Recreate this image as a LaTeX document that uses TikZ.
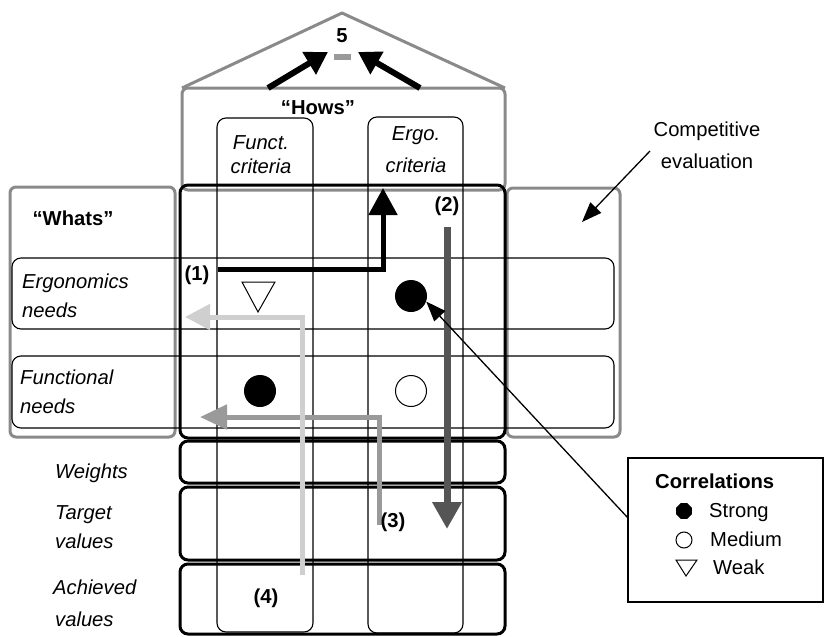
\documentclass[tikz,border=0pt]{standalone}
\usepackage{fontspec}
\setmainfont{Liberation Sans}
\usetikzlibrary{arrows.meta,shapes.geometric}
\definecolor{boxgray}{HTML}{8A8A8A}
\definecolor{darkg}{HTML}{555555}
\definecolor{midg}{HTML}{9A9A9A}
\definecolor{lightg}{HTML}{CFCFCF}
\newcommand\fs{\fontsize{20.2}{24}\selectfont}
\begin{document}
\begin{tikzpicture}[x=1pt,y=-1pt,
  graybox/.style={draw=boxgray, line width=3pt, rounded corners=6pt},
  blackbox/.style={draw=black, line width=3pt, rounded corners=8pt},
  thinbox/.style={draw=black, line width=1.1pt, rounded corners=9pt},
  txt/.style={font=\fs, inner sep=0pt},
  itxt/.style={font=\fs\itshape, inner sep=0pt},
  btxt/.style={font=\fs\bfseries, inner sep=0pt},
  flow/.style={line width=5pt, line join=miter, -{Triangle[length=27pt,width=28pt]}},
  pointer/.style={line width=1.3pt, -{Triangle[length=20pt,width=15pt]}}
]
\useasboundingbox (0,0) rectangle (825,637);

% roof and Hows box
\draw[boxgray, line width=3pt, line join=round] (182,88) -- (342,13) -- (505,88);
\draw[graybox] (182,88) rectangle (505,190);
% Whats and competitive evaluation boxes
\draw[graybox] (10,187) rectangle (175,437);
\draw[graybox] (507,188) rectangle (620,437);
% row boxes
\draw[thinbox] (12,258) rectangle (614,329);
\draw[thinbox] (12,356) rectangle (614,428);
% column boxes
\draw[thinbox] (217,118) rectangle (313,632);
\draw[thinbox] (368,117) rectangle (463,633);
% matrix and lower rows
\draw[blackbox] (180,185) rectangle (505,438);
\draw[blackbox] (180,441) rectangle (505,483);
\draw[blackbox] (180,487) rectangle (505,560);
\draw[blackbox] (180,564) rectangle (505,634);

% correlation symbols
\draw[line width=1pt] (242,282) -- (275,282) -- (258,312) -- cycle;
\node[circle, fill=black, minimum size=32pt, inner sep=0pt] (s1) at (411,296) {};
\node[circle, fill=black, minimum size=32pt, inner sep=0pt] (s2) at (260,391) {};
\node[circle, draw=black, line width=1pt, minimum size=31pt, inner sep=0pt] (m1) at (411,391) {};

% top: 5
\node[btxt] (five) at (342,36) {5};
\draw[midg, line width=6pt] (334,57) -- (351,57);
\coordinate (r1a) at (268,88); \coordinate (r1b) at (328,52);
\coordinate (r2a) at (420,88); \coordinate (r2b) at (358,52);
\draw[line width=6pt, -{Triangle[length=22pt,width=25pt]}] (r1a) -- (r1b);
\draw[line width=6pt, -{Triangle[length=22pt,width=25pt]}] (r2a) -- (r2b);

% flow arrows
\coordinate (f1a) at (218,269); \coordinate (f1b) at (383,269); \coordinate (f1c) at (383,188);
\draw[flow] (f1a) -- (f1b) -- (f1c);
\coordinate (f2a) at (447,227); \coordinate (f2b) at (447,529);
\draw[flow, darkg, line width=7pt] (f2a) -- (f2b);
\coordinate (f3a) at (379,525); \coordinate (f3b) at (379,417); \coordinate (f3c) at (200,417);
\draw[flow, midg, -{Triangle[length=27pt,width=24pt]}] (f3a) -- (f3b) -- (f3c);
\coordinate (f4a) at (302,575); \coordinate (f4b) at (302,317); \coordinate (f4c) at (185,317);
\draw[flow, lightg, -{Triangle[length=25pt,width=25pt]}] (f4a) -- (f4b) -- (f4c);

% texts
\node[btxt] (hows) at (318,108) {“Hows”};
\node[itxt] (fc1) at (261,143) {Funct.};
\node[itxt] (fc2) at (261,166) {criteria};
\node[itxt] (ec1) at (416,136) {Ergo.};
\node[itxt] (ec2) at (416,165) {criteria};
\node[btxt] (whats) at (73,218) {“Whats”};
\node[itxt, anchor=mid west] (en1) at (22,286) {Ergonomics};
\node[itxt, anchor=mid west] (en2) at (22,315) {needs};
\node[itxt, anchor=mid west] (fn1) at (20,382) {Functional};
\node[itxt, anchor=mid west] (fn2) at (20,411) {needs};
\node[itxt, anchor=mid west] (wt) at (55,476) {Weights};
\node[itxt, anchor=mid west] (tv1) at (55,517) {Target};
\node[itxt, anchor=mid west] (tv2) at (55,546) {values};
\node[itxt, anchor=mid west] (av1) at (53,592) {Achieved};
\node[itxt, anchor=mid west] (av2) at (55,624) {values};
\node[btxt] (l1) at (197,275) {(1)};
\node[btxt] (l2) at (447,206) {(2)};
\node[btxt] (l3) at (393,522) {(3)};
\node[btxt] (l4) at (266,598) {(4)};

% competitive evaluation
\node[txt] (ce1) at (707,131) {Competitive};
\node[txt] (ce2) at (707,161) {evaluation};
\coordinate (cea) at (650,151); \coordinate (ceb) at (582,222);
\draw[pointer] (cea) -- (ceb);

% legend
\draw[line width=1.3pt] (628,458) rectangle (823,602);
\node[btxt, anchor=mid west] (corr) at (655,486) {Correlations};
\node[regular polygon, regular polygon sides=8, fill=black, minimum size=17pt, inner sep=0pt] (ls) at (684,511) {};
\node[txt, anchor=mid west] (lst) at (709,515) {Strong};
\node[circle, draw=black, line width=1pt, minimum size=16pt, inner sep=0pt] (lm) at (684,540) {};
\node[txt, anchor=mid west] (lmt) at (710,544) {Medium};
\draw[line width=1pt] (676,560) -- (697,560) -- (686,576) -- cycle;
\node[txt, anchor=mid west] (lwt) at (713,572) {Weak};
\coordinate (cora) at (628,518);
\draw[pointer] (cora) -- (s1.-20);
\end{tikzpicture}
\end{document}
